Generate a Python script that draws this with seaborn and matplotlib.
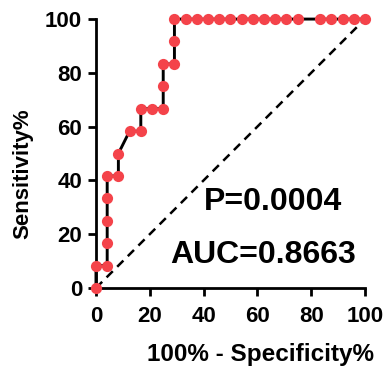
import seaborn as sns
import matplotlib.pyplot as plt
import pandas as pd

# ROC points (100% - Specificity%, Sensitivity%)
fpr = [0, 0, 4.17, 4.17, 4.17, 4.17, 4.17, 8.33, 8.33, 12.5, 16.67, 16.67,
       20.83, 25, 25, 25, 29.17, 29.17, 29.17, 33.33, 37.5, 41.67, 45.83, 50,
       54.17, 58.33, 62.5, 66.67, 70.83, 75, 83.33, 87.5, 91.67, 95.83, 100]
tpr = [0, 8.33, 8.33, 16.67, 25, 33.33, 41.67, 41.67, 50, 58.33, 58.33, 66.67,
       66.67, 66.67, 75, 83.33, 83.33, 91.67, 100, 100, 100, 100, 100, 100,
       100, 100, 100, 100, 100, 100, 100, 100, 100, 100, 100]
ticks = [0, 20, 40, 60, 80, 100]
p_text = "P=0.0004"
auc_text = "AUC=0.8663"

df = pd.DataFrame({'fpr': fpr, 'tpr': tpr})

sns.set_style('ticks')
plt.rcParams['font.family'] = ['Liberation Sans', 'DejaVu Sans']
plt.rcParams['font.weight'] = 'bold'
for k in ['text.color', 'axes.labelcolor', 'xtick.color', 'ytick.color', 'axes.edgecolor']:
    plt.rcParams[k] = 'black'

fig = plt.figure(figsize=(3.87, 3.74), dpi=100)
ax = fig.add_axes([0.248, 0.23, 0.695, 0.719])

ax.plot([0, 100], [0, 100], color='black', linestyle=(0, (3.5, 2.5)), lw=1.8, clip_on=False)
sns.lineplot(data=df, x='fpr', y='tpr', sort=False, estimator=None, color='black',
             lw=2.1, ax=ax, clip_on=False)
sns.scatterplot(data=df, x='fpr', y='tpr', color='#F4434A', s=65, linewidth=0,
                ax=ax, clip_on=False, zorder=5)

ax.set_xlim(0, 100)
ax.set_ylim(0, 100)
ax.set_xticks(ticks)
ax.set_yticks(ticks)
ax.tick_params(width=2, length=6, labelsize=16)
ax.tick_params(axis='x', pad=7)
ax.tick_params(axis='y', pad=4)
for lab in ax.get_xticklabels() + ax.get_yticklabels():
    lab.set_fontweight('bold')
for s in ['left', 'bottom']:
    ax.spines[s].set_linewidth(2)
sns.despine(ax=ax)

ax.set_xlabel('100% - Specificity%', fontsize=17.5, fontweight='bold')
ax.set_ylabel('Sensitivity%', fontsize=16, fontweight='bold')
ax.xaxis.set_label_coords(0.61, -0.205)
ax.yaxis.set_label_coords(-0.232, 0.424)

ax.text(66, 32, p_text, fontsize=23, fontweight='bold', ha='center', va='center')
ax.text(62.3, 12.3, auc_text, fontsize=23, fontweight='bold', ha='center', va='center')

fig.savefig('out.png', dpi=100)
